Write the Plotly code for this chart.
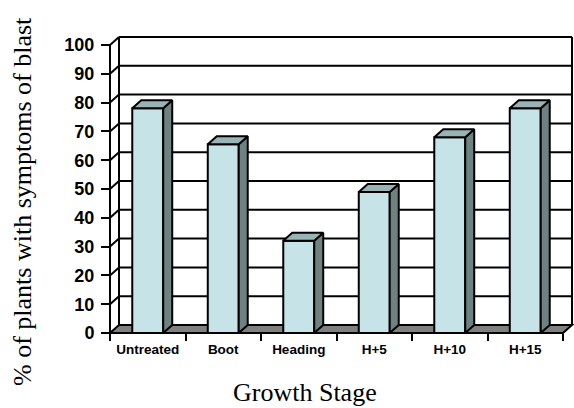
import plotly.graph_objects as go

# ---------------- data ----------------
categories = ["Untreated", "Boot", "Heading", "H+5", "H+10", "H+15"]
values = [78, 65.5, 32, 49, 68, 78]
y_tick_vals = [0, 10, 20, 30, 40, 50, 60, 70, 80, 90, 100]
y_title = "% of plants with symptoms of blast"
x_title = "Growth Stage"

# ---------------- geometry ----------------
W, H = 574, 408
PX0, PY0 = 110, 333          # pixel of front origin (x=0, y=0)
SX, SY = 75.5, 2.88          # pixels per data unit
ML, MR, MT, MB = 102, 0, 33, 66
DEPTH_PX = (9, 8)            # 3-D depth offset in pixels
BAR_W = 0.41

plot_w = W - ML - MR
plot_h = H - MT - MB
xmin = (ML - PX0) / SX
xmax = (W - MR - PX0) / SX
ymin = (PY0 - (H - MB)) / SY
ymax = (PY0 - MT) / SY
dxu = DEPTH_PX[0] / SX
dyu = DEPTH_PX[1] / SY
n = len(categories)
ytop = max(y_tick_vals)

front_col = "#C6E4E8"
side_col = "#6E8282"
top_col = "#9AB4B5"
floor_col = "#808080"
LW = 2
SERIF = "Liberation Serif"

fig = go.Figure()

centers = [i + 0.5 for i in range(n)]

# front faces
fig.add_trace(go.Bar(
    x=centers, y=values, width=BAR_W,
    marker=dict(color=front_col, line=dict(color="black", width=LW)),
    hoverinfo="skip", showlegend=False,
))

# side faces and tops (polygons derived from values)
sx, sy, tx, ty = [], [], [], []
for c, v in zip(centers, values):
    x0, x1 = c - BAR_W / 2, c + BAR_W / 2
    sx += [x1, x1 + dxu, x1 + dxu, x1, x1, None]
    sy += [0, dyu, v + dyu, v, 0, None]
    tx += [x0, x0 + dxu, x1 + dxu, x1, x0, None]
    ty += [v, v + dyu, v + dyu, v, v, None]
fig.add_trace(go.Scatter(x=sx, y=sy, mode="lines", fill="toself", fillcolor=side_col,
                         line=dict(color="black", width=LW), hoverinfo="skip", showlegend=False))
fig.add_trace(go.Scatter(x=tx, y=ty, mode="lines", fill="toself", fillcolor=top_col,
                         line=dict(color="black", width=LW), hoverinfo="skip", showlegend=False))

shapes = []
line = dict(color="black", width=LW)
# floor
shapes.append(dict(type="path", xref="x", yref="y", layer="below",
                   path=f"M0,0 L{n},0 L{n+dxu},{dyu} L{dxu},{dyu} Z",
                   fillcolor=floor_col, line=line))
# back wall gridlines and side-wall diagonals
for v in y_tick_vals:
    if v == 0:
        continue
    shapes.append(dict(type="line", xref="x", yref="y", layer="below",
                       x0=dxu, x1=n + dxu, y0=v + dyu, y1=v + dyu, line=line))
    shapes.append(dict(type="line", xref="x", yref="y", layer="below",
                       x0=0, x1=dxu, y0=v, y1=v + dyu, line=line))
# back wall left and right edges
shapes.append(dict(type="line", xref="x", yref="y", layer="below",
                   x0=dxu, x1=dxu, y0=dyu, y1=ytop + dyu, line=line))
shapes.append(dict(type="line", xref="x", yref="y", layer="below",
                   x0=n + dxu, x1=n + dxu, y0=dyu, y1=ytop + dyu, line=line))
# front value axis line
shapes.append(dict(type="line", xref="x", yref="y", layer="above",
                   x0=0, x1=0, y0=0, y1=ytop, line=line))

fig.update_layout(
    width=W, height=H,
    margin=dict(l=ML, r=MR, t=MT, b=MB, pad=0, autoexpand=False),
    paper_bgcolor="white", plot_bgcolor="white",
    showlegend=False,
    shapes=shapes,
    xaxis=dict(
        range=[xmin, xmax], domain=[0, 1], showgrid=False, zeroline=False, showline=False,
        tickmode="array", tickvals=centers, ticktext=categories,
        ticks="", ticklen=0,
        tickfont=dict(family="Liberation Sans, Arial", size=13.5, color="black", weight="bold"),
        anchor="free", position=(0 - ymin) / (ymax - ymin),
        ticklabelstandoff=6,
        minor=dict(tickmode="array", tickvals=list(range(n + 1)), ticks="outside",
                   ticklen=7, tickwidth=LW, tickcolor="black", showgrid=False),
    ),
    yaxis=dict(
        range=[ymin, ymax], domain=[0, 1], showgrid=False, zeroline=False, showline=False,
        tickmode="array", tickvals=y_tick_vals, ticktext=[str(v) for v in y_tick_vals],
        ticks="outside", ticklen=9, tickwidth=LW, tickcolor="black",
        tickfont=dict(family="Liberation Sans, Arial", size=18, color="black", weight="bold"),
        anchor="free", position=(0 - xmin) / (xmax - xmin),
        ticklabelstandoff=3,
    ),
    annotations=[
        dict(text=y_title, textangle=-90, xref="paper", yref="paper",
             x=(22 - ML) / plot_w, y=((H - MB) - 202) / plot_h,
             xanchor="center", yanchor="middle", showarrow=False,
             font=dict(family=SERIF, size=26, color="black")),
        dict(text=x_title, xref="paper", yref="paper",
             x=(305 - ML) / plot_w, y=((H - MB) - 392) / plot_h,
             xanchor="center", yanchor="middle", showarrow=False,
             font=dict(family=SERIF, size=26, color="black")),
    ],
)

fig.write_html("out.html")
